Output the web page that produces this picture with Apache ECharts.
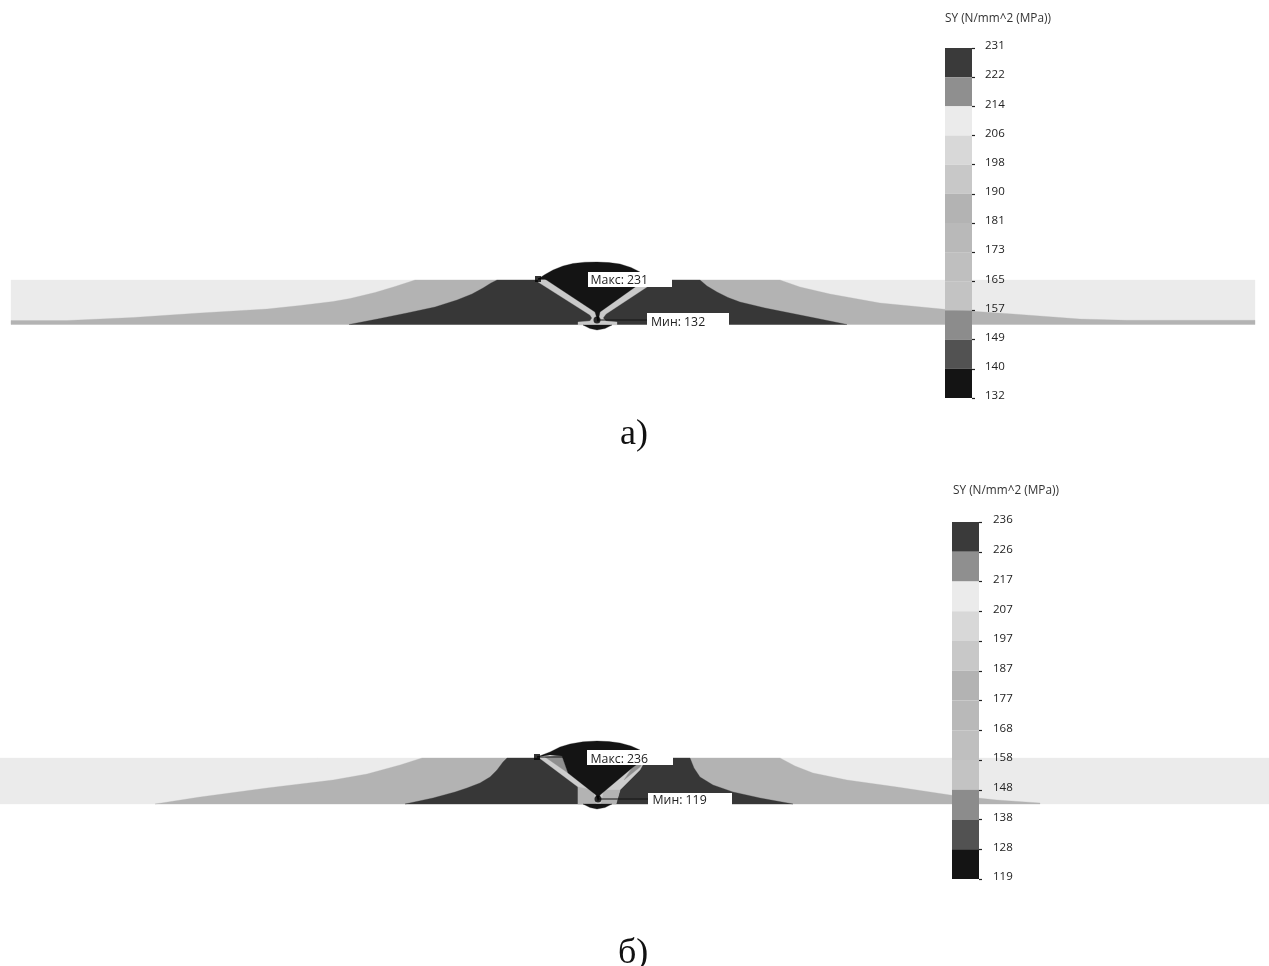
<!DOCTYPE html>
<html>
<head>
<meta charset="utf-8">
<style>html,body{margin:0;padding:0;background:#fff}#chart{width:1269px;height:966px;filter:blur(0.45px)}</style>
<script src="https://cdn.jsdelivr.net/npm/echarts@6/dist/echarts.min.js"></script>
</head>
<body>
<div id="chart"></div>
<script>
// colour bar
var bandColors = ['#3a3a3a','#8f8f8f','#ebebeb','#d8d8d8','#c8c8c8','#b3b3b3','#b9b9b9','#bfbfbf','#c3c3c3','#8c8c8c','#525252','#141414'];
var ticksA = ['231','222','214','206','198','190','181','173','165','157','149','140','132'];
var ticksB = ['236','226','217','207','197','187','177','168','158','148','138','128','119'];
var unitTitle = 'SY (N/mm^2 (MPa))';

// contour regions of panel a (image-space readings)
var a_plate = [[11,280],[1255,280],[1255,324.5],[11,324.5]];
var a_mid = [[11,320.5],[67,320.5],[133,317.5],[200,313],[267,309],[300,305.5],[333,301.5],[350,298.5],[375,292.5],[395,286.5],[415,280],[780,280],[800,287],[830,294],[880,303],[947,309.5],[1013,314],[1080,319],[1127,320.3],[1255,320.3],[1255,324.5],[11,324.5]];
var a_dark = [[349,324.5],[380,318.5],[407,313],[435,307],[457,300],[472,294],[483,288],[491,283],[497,280],[700,280],[707,286],[717,292],[728,297.5],[740,302],[765,308],[790,313],[820,319],[847,324.5]];
var a_band = [[538,279],[550,278],[640,282],[650,285],[606,314],[603,318],[606,321],[617,322],[617,325],[612,325],[578,325],[578,322],[590,321],[592,318],[590,315],[538,282]];
var a_weld = [[538,279],[545,274.5],[553,270],[563,266],[573,263.5],[585,262.2],[597,262],[609,262.6],[620,264],[631,267.5],[640,272],[647,280],[638,285],[600,312],[598,322],[595,312],[545,279]];
var a_cap = [[583,325],[590,328.5],[597,330],[605,328.5],[612,325]];

// contour regions of panel b
var b_plate = [[0,758],[1269,758],[1269,804],[0,804]];
var b_mid = [[155,804],[200,797],[267,788],[333,780],[367,774],[400,765],[422,758],[780,758],[795,766],[813,773],[847,780],[897,787],[950,795],[997,800],[1040,803],[1040,804]];
var b_dark = [[405,804],[433,798],[455,792],[467,788],[480,783],[490,777],[497,770],[503,762],[507,758],[690,758],[694,768],[700,777],[713,785],[733,792],[760,798],[793,804]];
var b_band = [[538,757],[647,757],[640,770],[620,790],[616,804],[578,804],[578,787]];
var b_stemL = [[578,787],[593,790],[596,804],[578,804]];
var b_stemR = [[604,790],[620,790],[616,804],[601,804]];
var b_wedgeL = [[545,757],[562,755],[568,773]];
var b_wedgeR = [[632,768],[647,757],[640,767],[624,780]];
var b_weld = [[537,757],[550,752],[560,747],[570,744],[583,741.8],[597,741],[609,741.6],[620,743],[631,746],[640,750],[647,757],[632,768],[600,795],[598,801],[596,795],[568,773],[562,756],[550,755]];
var b_cap = [[583,804],[590,807.5],[597,809],[605,807.5],[612,804]];

// extreme-value annotations
var a_maxLine = [[538,279],[592,279]];
var a_minLine = [[597,320],[650,320]];
var b_maxLine = [[537,757],[592,757]];
var b_minLine = [[598,799],[652,799]];
var a_maxBox = {x0:588,y0:272,x1:672,y1:287,dx:2.5,dy:1,text:'Макс: 231'};
var a_minBox = {x0:647,y0:313,x1:729,y1:326,dx:4,dy:3,text:'Мин: 132'};
var b_maxBox = {x0:587,y0:750,x1:673,y1:765,dx:3.5,dy:1.5,text:'Макс: 236'};
var b_minBox = {x0:648,y0:793,x1:732,y1:805,dx:4.5,dy:1.5,text:'Мин: 119'};
var markersRect = [[538,279],[537,757]];
var markersRound = [[597,320],[598,799]];

function region(points, color, z) {
  return {
    type: 'custom', xAxisIndex: 0, yAxisIndex: 0, z: z, silent: true, clip: false,
    data: [[0]],
    renderItem: function (p, api) {
      return { type: 'polygon', shape: { points: points.map(function (q) { return api.coord(q); }) }, style: { fill: color, stroke: color, lineWidth: 0.3 } };
    }
  };
}
function leader(points) {
  return { type: 'line', xAxisIndex: 0, yAxisIndex: 0, z: 8, silent: true, data: points, symbol: 'none', lineStyle: { color: '#141414', width: 1.2 } };
}
function box(b) {
  return {
    type: 'custom', xAxisIndex: 0, yAxisIndex: 0, z: 9, silent: true, clip: false,
    data: [[0]],
    renderItem: function (p, api) {
      var a = api.coord([b.x0, b.y0]), c = api.coord([b.x1, b.y1]);
      return { type: 'group', children: [
        { type: 'rect', shape: { x: a[0], y: a[1], width: c[0] - a[0], height: c[1] - a[1] }, style: { fill: '#fff' } },
        { type: 'text', style: { x: a[0] + b.dx, y: (a[1] + c[1]) / 2 + b.dy, text: b.text, fill: '#222', font: '12.3px "Open Sans"', textVerticalAlign: 'middle' } }
      ] };
    }
  };
}
function colorBar(gridIdx) {
  return {
    type: 'custom', xAxisIndex: gridIdx, yAxisIndex: gridIdx, z: 12, silent: true, clip: false,
    data: bandColors.map(function (c, i) { return [0, i]; }),
    encode: { x: 0, y: 1 },
    renderItem: function (p, api) {
      var i = api.value(1), a = api.coord([0, i]), c = api.coord([1, i + 1]);
      return { type: 'rect', shape: { x: a[0], y: a[1], width: c[0] - a[0], height: c[1] - a[1] }, style: { fill: bandColors[i] } };
    }
  };
}
function barY(ticks, idx, margin) {
  return {
    type: 'category', gridIndex: idx, data: ticks, inverse: true, boundaryGap: false, position: 'right', z: 15,
    axisLine: { show: false, onZero: false },
    axisTick: { show: true, length: 3, inside: false, lineStyle: { color: '#222', width: 1.2 } },
    axisLabel: { show: true, interval: 0, margin: margin, color: '#222', fontFamily: 'Open Sans', fontSize: 11.5, verticalAlign: 'bottom', lineHeight: 4 }
  };
}
function barX(idx) {
  return { type: 'value', gridIndex: idx, min: 0, max: 1, show: false };
}

var titleFont = { color: '#333', fontFamily: 'Open Sans', fontSize: 11.8, fontWeight: 'normal' };
var serifFont = { color: '#111', fontFamily: 'Liberation Serif', fontSize: 36, fontWeight: 'normal' };
var option = {
  backgroundColor: '#fff',
  animation: false,
  title: [
    { text: unitTitle, left: 945, top: 12.5, padding: 0, textStyle: titleFont },
    { text: unitTitle, left: 953, top: 485, padding: 0, textStyle: titleFont },
    { text: 'а)', left: 620, top: 417, padding: 0, textStyle: serifFont },
    { text: 'б)', left: 618, top: 936, padding: 0, textStyle: serifFont }
  ],
  grid: [
    { left: 0, top: 0, width: 1269, height: 966 },
    { left: 945, top: 48, width: 27, height: 350 },
    { left: 952, top: 522, width: 27, height: 357 }
  ],
  xAxis: [ { type: 'value', gridIndex: 0, min: 0, max: 1269, show: false }, barX(1), barX(2) ],
  yAxis: [ { type: 'value', gridIndex: 0, min: 0, max: 966, inverse: true, show: false }, barY(ticksA, 1, 13), barY(ticksB, 2, 14) ],
  series: [
    region(a_plate, '#ebebeb', 1), region(a_mid, '#b3b3b3', 2), region(a_dark, '#373737', 3),
    region(a_band, '#c9c9c9', 4), region(a_weld, '#141414', 5), region(a_cap, '#141414', 4),
    region(b_plate, '#ebebeb', 1), region(b_mid, '#b3b3b3', 2), region(b_dark, '#373737', 3),
    region(b_band, '#cccccc', 4), region(b_stemL, '#b3b3b3', 4), region(b_stemR, '#b3b3b3', 4),
    region(b_wedgeL, '#8f8f8f', 4), region(b_wedgeR, '#8f8f8f', 4), region(b_weld, '#141414', 5), region(b_cap, '#141414', 4),
    leader(a_maxLine), leader(a_minLine), leader(b_maxLine), leader(b_minLine),
    box(a_maxBox), box(a_minBox), box(b_maxBox), box(b_minBox),
    { type: 'scatter', xAxisIndex: 0, yAxisIndex: 0, z: 10, silent: true, data: markersRect, symbol: 'rect', symbolSize: 6, itemStyle: { color: '#000' } },
    { type: 'scatter', xAxisIndex: 0, yAxisIndex: 0, z: 10, silent: true, data: markersRound, symbol: 'circle', symbolSize: 7, itemStyle: { color: '#000' } },
    colorBar(1), colorBar(2)
  ]
};
echarts.init(document.getElementById('chart'), null, { renderer: 'canvas' }).setOption(option);
</script>
</body>
</html>
